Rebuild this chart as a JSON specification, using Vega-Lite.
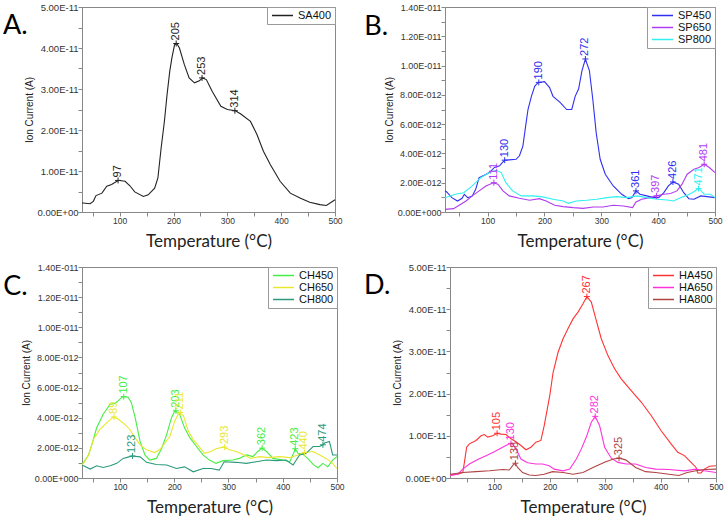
{
"$schema": "https://vega.github.io/schema/vega-lite/v6.json",
"padding": {"left": 2, "top": 1, "right": 0, "bottom": 0},
"datasets": {
"A": [
{"s":"SA400","T":30,"I":0.22e-11},{"s":"SA400","T":32,"I":0.22e-11},{"s":"SA400","T":45,"I":0.2e-11},{"s":"SA400","T":51,"I":0.26e-11},{"s":"SA400","T":56,"I":0.4e-11},{"s":"SA400","T":67,"I":0.46e-11},{"s":"SA400","T":76,"I":0.63e-11},{"s":"SA400","T":85,"I":0.67e-11},{"s":"SA400","T":97,"I":0.77e-11},{"s":"SA400","T":100,"I":0.77e-11},{"s":"SA400","T":110,"I":0.75e-11},{"s":"SA400","T":119,"I":0.64e-11},{"s":"SA400","T":128,"I":0.49e-11},{"s":"SA400","T":144,"I":0.38e-11},{"s":"SA400","T":153,"I":0.42e-11},{"s":"SA400","T":165,"I":0.58e-11},{"s":"SA400","T":171,"I":0.83e-11},{"s":"SA400","T":177,"I":1.56e-11},{"s":"SA400","T":183,"I":2.2e-11},{"s":"SA400","T":188,"I":2.86e-11},{"s":"SA400","T":193,"I":3.43e-11},{"s":"SA400","T":197,"I":3.76e-11},{"s":"SA400","T":202,"I":4.08e-11},{"s":"SA400","T":206,"I":4.11e-11},{"s":"SA400","T":211,"I":4.0e-11},{"s":"SA400","T":220,"I":3.6e-11},{"s":"SA400","T":229,"I":3.27e-11},{"s":"SA400","T":239,"I":3.15e-11},{"s":"SA400","T":248,"I":3.2e-11},{"s":"SA400","T":254,"I":3.27e-11},{"s":"SA400","T":261,"I":3.23e-11},{"s":"SA400","T":272,"I":2.94e-11},{"s":"SA400","T":288,"I":2.58e-11},{"s":"SA400","T":300,"I":2.5e-11},{"s":"SA400","T":315,"I":2.47e-11},{"s":"SA400","T":325,"I":2.39e-11},{"s":"SA400","T":343,"I":2.21e-11},{"s":"SA400","T":355,"I":1.89e-11},{"s":"SA400","T":367,"I":1.48e-11},{"s":"SA400","T":380,"I":1.15e-11},{"s":"SA400","T":398,"I":0.75e-11},{"s":"SA400","T":417,"I":0.46e-11},{"s":"SA400","T":435,"I":0.34e-11},{"s":"SA400","T":453,"I":0.24e-11},{"s":"SA400","T":472,"I":0.18e-11},{"s":"SA400","T":484,"I":0.16e-11},{"s":"SA400","T":498,"I":0.28e-11},{"s":"SA400","T":500,"I":0.3e-11}
],
"B": [
{"s":"SP450","T":25,"I":1.45e-12},{"s":"SP450","T":28,"I":1.37e-12},{"s":"SP450","T":37,"I":0.98e-12},{"s":"SP450","T":47,"I":0.75e-12},{"s":"SP450","T":55,"I":0.94e-12},{"s":"SP450","T":59,"I":1.21e-12},{"s":"SP450","T":65,"I":0.98e-12},{"s":"SP450","T":73,"I":1.1e-12},{"s":"SP450","T":79,"I":1.55e-12},{"s":"SP450","T":85,"I":2.35e-12},{"s":"SP450","T":94,"I":2.51e-12},{"s":"SP450","T":103,"I":2.69e-12},{"s":"SP450","T":112,"I":3.04e-12},{"s":"SP450","T":121,"I":3.15e-12},{"s":"SP450","T":127,"I":3.42e-12},{"s":"SP450","T":130,"I":3.54e-12},{"s":"SP450","T":138,"I":3.56e-12},{"s":"SP450","T":150,"I":3.6e-12},{"s":"SP450","T":156,"I":3.84e-12},{"s":"SP450","T":162,"I":4.5e-12},{"s":"SP450","T":167,"I":5.9e-12},{"s":"SP450","T":171,"I":7.0e-12},{"s":"SP450","T":177,"I":7.9e-12},{"s":"SP450","T":183,"I":8.6e-12},{"s":"SP450","T":189,"I":8.85e-12},{"s":"SP450","T":200,"I":8.9e-12},{"s":"SP450","T":209,"I":8.5e-12},{"s":"SP450","T":215,"I":7.9e-12},{"s":"SP450","T":227,"I":7.5e-12},{"s":"SP450","T":239,"I":7.0e-12},{"s":"SP450","T":248,"I":7.0e-12},{"s":"SP450","T":254,"I":7.9e-12},{"s":"SP450","T":260,"I":8.4e-12},{"s":"SP450","T":266,"I":9.66e-12},{"s":"SP450","T":272,"I":10.45e-12},{"s":"SP450","T":279,"I":9.66e-12},{"s":"SP450","T":285,"I":7.7e-12},{"s":"SP450","T":291,"I":5.4e-12},{"s":"SP450","T":298,"I":3.6e-12},{"s":"SP450","T":307,"I":2.58e-12},{"s":"SP450","T":321,"I":1.78e-12},{"s":"SP450","T":336,"I":1.21e-12},{"s":"SP450","T":348,"I":0.91e-12},{"s":"SP450","T":354,"I":0.98e-12},{"s":"SP450","T":361,"I":1.44e-12},{"s":"SP450","T":368,"I":1.21e-12},{"s":"SP450","T":380,"I":1.1e-12},{"s":"SP450","T":392,"I":0.98e-12},{"s":"SP450","T":401,"I":0.98e-12},{"s":"SP450","T":410,"I":1.32e-12},{"s":"SP450","T":418,"I":1.78e-12},{"s":"SP450","T":426,"I":2.05e-12},{"s":"SP450","T":436,"I":1.9e-12},{"s":"SP450","T":445,"I":1.32e-12},{"s":"SP450","T":454,"I":0.91e-12},{"s":"SP450","T":463,"I":0.87e-12},{"s":"SP450","T":475,"I":1.1e-12},{"s":"SP450","T":486,"I":1.05e-12},{"s":"SP450","T":500,"I":0.98e-12},
{"s":"SP650","T":25,"I":0.18e-12},{"s":"SP650","T":40,"I":0.23e-12},{"s":"SP650","T":50,"I":0.46e-12},{"s":"SP650","T":62,"I":0.75e-12},{"s":"SP650","T":73,"I":1.1e-12},{"s":"SP650","T":85,"I":1.44e-12},{"s":"SP650","T":97,"I":1.78e-12},{"s":"SP650","T":110,"I":2.0e-12},{"s":"SP650","T":118,"I":1.9e-12},{"s":"SP650","T":127,"I":1.44e-12},{"s":"SP650","T":138,"I":1.1e-12},{"s":"SP650","T":156,"I":0.94e-12},{"s":"SP650","T":174,"I":0.8e-12},{"s":"SP650","T":191,"I":0.91e-12},{"s":"SP650","T":203,"I":0.75e-12},{"s":"SP650","T":218,"I":0.46e-12},{"s":"SP650","T":233,"I":0.37e-12},{"s":"SP650","T":251,"I":0.3e-12},{"s":"SP650","T":268,"I":0.25e-12},{"s":"SP650","T":286,"I":0.34e-12},{"s":"SP650","T":303,"I":0.34e-12},{"s":"SP650","T":321,"I":0.46e-12},{"s":"SP650","T":339,"I":0.41e-12},{"s":"SP650","T":355,"I":0.3e-12},{"s":"SP650","T":361,"I":0.68e-12},{"s":"SP650","T":371,"I":0.87e-12},{"s":"SP650","T":386,"I":0.98e-12},{"s":"SP650","T":397,"I":1.1e-12},{"s":"SP650","T":410,"I":1.21e-12},{"s":"SP650","T":422,"I":1.26e-12},{"s":"SP650","T":433,"I":1.44e-12},{"s":"SP650","T":442,"I":1.9e-12},{"s":"SP650","T":451,"I":2.58e-12},{"s":"SP650","T":463,"I":2.92e-12},{"s":"SP650","T":472,"I":3.04e-12},{"s":"SP650","T":481,"I":3.26e-12},{"s":"SP650","T":490,"I":3.04e-12},{"s":"SP650","T":500,"I":2.69e-12},
{"s":"SP800","T":25,"I":0.98e-12},{"s":"SP800","T":43,"I":1.21e-12},{"s":"SP800","T":58,"I":1.32e-12},{"s":"SP800","T":73,"I":1.78e-12},{"s":"SP800","T":88,"I":2.35e-12},{"s":"SP800","T":103,"I":2.69e-12},{"s":"SP800","T":115,"I":2.85e-12},{"s":"SP800","T":124,"I":2.69e-12},{"s":"SP800","T":132,"I":2.0e-12},{"s":"SP800","T":144,"I":1.44e-12},{"s":"SP800","T":159,"I":1.1e-12},{"s":"SP800","T":180,"I":1.1e-12},{"s":"SP800","T":197,"I":1.03e-12},{"s":"SP800","T":215,"I":0.87e-12},{"s":"SP800","T":233,"I":0.75e-12},{"s":"SP800","T":242,"I":0.59e-12},{"s":"SP800","T":256,"I":0.75e-12},{"s":"SP800","T":274,"I":0.8e-12},{"s":"SP800","T":292,"I":0.87e-12},{"s":"SP800","T":310,"I":0.98e-12},{"s":"SP800","T":327,"I":1.05e-12},{"s":"SP800","T":345,"I":0.98e-12},{"s":"SP800","T":363,"I":1.1e-12},{"s":"SP800","T":380,"I":0.98e-12},{"s":"SP800","T":398,"I":0.87e-12},{"s":"SP800","T":416,"I":0.82e-12},{"s":"SP800","T":427,"I":0.75e-12},{"s":"SP800","T":439,"I":0.98e-12},{"s":"SP800","T":448,"I":1.1e-12},{"s":"SP800","T":460,"I":1.32e-12},{"s":"SP800","T":469,"I":1.55e-12},{"s":"SP800","T":472,"I":1.6e-12},{"s":"SP800","T":481,"I":1.21e-12},{"s":"SP800","T":492,"I":1.21e-12},{"s":"SP800","T":500,"I":0.98e-12}
],
"C": [
{"s":"CH450","T":30,"I":0.95e-12},{"s":"CH450","T":33,"I":1.04e-12},{"s":"CH450","T":42,"I":1.53e-12},{"s":"CH450","T":48,"I":2.2e-12},{"s":"CH450","T":57,"I":3.33e-12},{"s":"CH450","T":69,"I":4.23e-12},{"s":"CH450","T":82,"I":4.9e-12},{"s":"CH450","T":91,"I":4.95e-12},{"s":"CH450","T":97,"I":5.13e-12},{"s":"CH450","T":105,"I":5.4e-12},{"s":"CH450","T":115,"I":5.36e-12},{"s":"CH450","T":121,"I":5.0e-12},{"s":"CH450","T":128,"I":4.0e-12},{"s":"CH450","T":137,"I":2.43e-12},{"s":"CH450","T":146,"I":1.53e-12},{"s":"CH450","T":155,"I":1.19e-12},{"s":"CH450","T":167,"I":1.3e-12},{"s":"CH450","T":177,"I":1.98e-12},{"s":"CH450","T":186,"I":2.88e-12},{"s":"CH450","T":195,"I":4.0e-12},{"s":"CH450","T":201,"I":4.46e-12},{"s":"CH450","T":210,"I":4.23e-12},{"s":"CH450","T":219,"I":3.33e-12},{"s":"CH450","T":229,"I":2.66e-12},{"s":"CH450","T":241,"I":2.09e-12},{"s":"CH450","T":253,"I":1.53e-12},{"s":"CH450","T":265,"I":1.19e-12},{"s":"CH450","T":277,"I":0.97e-12},{"s":"CH450","T":290,"I":1.15e-12},{"s":"CH450","T":308,"I":1.19e-12},{"s":"CH450","T":320,"I":1.3e-12},{"s":"CH450","T":333,"I":1.53e-12},{"s":"CH450","T":345,"I":1.42e-12},{"s":"CH450","T":354,"I":1.76e-12},{"s":"CH450","T":362,"I":1.98e-12},{"s":"CH450","T":370,"I":1.76e-12},{"s":"CH450","T":382,"I":1.3e-12},{"s":"CH450","T":400,"I":1.19e-12},{"s":"CH450","T":413,"I":1.08e-12},{"s":"CH450","T":420,"I":1.64e-12},{"s":"CH450","T":423,"I":1.94e-12},{"s":"CH450","T":428,"I":1.64e-12},{"s":"CH450","T":437,"I":1.58e-12},{"s":"CH450","T":446,"I":1.3e-12},{"s":"CH450","T":456,"I":0.9e-12},{"s":"CH450","T":465,"I":0.68e-12},{"s":"CH450","T":474,"I":0.97e-12},{"s":"CH450","T":483,"I":0.74e-12},{"s":"CH450","T":492,"I":1.19e-12},{"s":"CH450","T":500,"I":1.42e-12},
{"s":"CH650","T":30,"I":0.9e-12},{"s":"CH650","T":33,"I":0.97e-12},{"s":"CH650","T":42,"I":1.53e-12},{"s":"CH650","T":51,"I":2.55e-12},{"s":"CH650","T":63,"I":3.22e-12},{"s":"CH650","T":76,"I":3.67e-12},{"s":"CH650","T":88,"I":4.05e-12},{"s":"CH650","T":97,"I":3.9e-12},{"s":"CH650","T":109,"I":3.56e-12},{"s":"CH650","T":118,"I":3.22e-12},{"s":"CH650","T":128,"I":2.66e-12},{"s":"CH650","T":137,"I":2.2e-12},{"s":"CH650","T":149,"I":1.87e-12},{"s":"CH650","T":164,"I":1.69e-12},{"s":"CH650","T":173,"I":1.87e-12},{"s":"CH650","T":183,"I":2.32e-12},{"s":"CH650","T":192,"I":2.77e-12},{"s":"CH650","T":201,"I":3.78e-12},{"s":"CH650","T":209,"I":4.35e-12},{"s":"CH650","T":217,"I":4.12e-12},{"s":"CH650","T":226,"I":3.11e-12},{"s":"CH650","T":235,"I":2.55e-12},{"s":"CH650","T":247,"I":2.03e-12},{"s":"CH650","T":256,"I":1.64e-12},{"s":"CH650","T":268,"I":1.76e-12},{"s":"CH650","T":277,"I":1.94e-12},{"s":"CH650","T":290,"I":2.05e-12},{"s":"CH650","T":302,"I":1.87e-12},{"s":"CH650","T":314,"I":1.76e-12},{"s":"CH650","T":329,"I":1.53e-12},{"s":"CH650","T":341,"I":1.3e-12},{"s":"CH650","T":357,"I":1.42e-12},{"s":"CH650","T":375,"I":1.35e-12},{"s":"CH650","T":394,"I":1.42e-12},{"s":"CH650","T":413,"I":1.35e-12},{"s":"CH650","T":428,"I":1.53e-12},{"s":"CH650","T":440,"I":1.69e-12},{"s":"CH650","T":456,"I":1.76e-12},{"s":"CH650","T":468,"I":1.53e-12},{"s":"CH650","T":480,"I":1.3e-12},{"s":"CH650","T":492,"I":0.97e-12},{"s":"CH650","T":500,"I":0.63e-12},
{"s":"CH800","T":30,"I":0.85e-12},{"s":"CH800","T":33,"I":0.81e-12},{"s":"CH800","T":45,"I":0.59e-12},{"s":"CH800","T":57,"I":0.81e-12},{"s":"CH800","T":69,"I":0.7e-12},{"s":"CH800","T":82,"I":0.81e-12},{"s":"CH800","T":94,"I":0.97e-12},{"s":"CH800","T":106,"I":1.3e-12},{"s":"CH800","T":118,"I":1.42e-12},{"s":"CH800","T":123,"I":1.46e-12},{"s":"CH800","T":137,"I":1.4e-12},{"s":"CH800","T":149,"I":1.04e-12},{"s":"CH800","T":167,"I":0.9e-12},{"s":"CH800","T":186,"I":0.86e-12},{"s":"CH800","T":204,"I":0.63e-12},{"s":"CH800","T":219,"I":0.74e-12},{"s":"CH800","T":235,"I":0.41e-12},{"s":"CH800","T":253,"I":0.63e-12},{"s":"CH800","T":268,"I":0.63e-12},{"s":"CH800","T":283,"I":0.52e-12},{"s":"CH800","T":292,"I":1.08e-12},{"s":"CH800","T":314,"I":1.04e-12},{"s":"CH800","T":333,"I":0.97e-12},{"s":"CH800","T":351,"I":1.08e-12},{"s":"CH800","T":370,"I":1.19e-12},{"s":"CH800","T":388,"I":1.15e-12},{"s":"CH800","T":406,"I":1.19e-12},{"s":"CH800","T":419,"I":0.86e-12},{"s":"CH800","T":431,"I":1.53e-12},{"s":"CH800","T":443,"I":1.64e-12},{"s":"CH800","T":456,"I":2.09e-12},{"s":"CH800","T":468,"I":2.09e-12},{"s":"CH800","T":474,"I":2.2e-12},{"s":"CH800","T":477,"I":2.32e-12},{"s":"CH800","T":486,"I":2.43e-12},{"s":"CH800","T":492,"I":1.53e-12},{"s":"CH800","T":500,"I":1.53e-12}
],
"D": [
{"s":"HA450","T":20,"I":0.07e-11},{"s":"HA450","T":34,"I":0.09e-11},{"s":"HA450","T":43,"I":0.13e-11},{"s":"HA450","T":46,"I":0.37e-11},{"s":"HA450","T":50,"I":0.73e-11},{"s":"HA450","T":55,"I":0.81e-11},{"s":"HA450","T":67,"I":0.89e-11},{"s":"HA450","T":76,"I":1.0e-11},{"s":"HA450","T":82,"I":1.03e-11},{"s":"HA450","T":88,"I":0.97e-11},{"s":"HA450","T":97,"I":1.0e-11},{"s":"HA450","T":105,"I":1.06e-11},{"s":"HA450","T":112,"I":1.04e-11},{"s":"HA450","T":121,"I":1.03e-11},{"s":"HA450","T":130,"I":0.93e-11},{"s":"HA450","T":139,"I":0.86e-11},{"s":"HA450","T":148,"I":0.77e-11},{"s":"HA450","T":157,"I":0.67e-11},{"s":"HA450","T":166,"I":0.73e-11},{"s":"HA450","T":175,"I":0.85e-11},{"s":"HA450","T":184,"I":0.89e-11},{"s":"HA450","T":190,"I":1.24e-11},{"s":"HA450","T":200,"I":1.95e-11},{"s":"HA450","T":206,"I":2.5e-11},{"s":"HA450","T":215,"I":2.98e-11},{"s":"HA450","T":224,"I":3.3e-11},{"s":"HA450","T":233,"I":3.54e-11},{"s":"HA450","T":242,"I":3.77e-11},{"s":"HA450","T":251,"I":3.93e-11},{"s":"HA450","T":260,"I":4.13e-11},{"s":"HA450","T":267,"I":4.3e-11},{"s":"HA450","T":275,"I":4.17e-11},{"s":"HA450","T":284,"I":3.73e-11},{"s":"HA450","T":293,"I":3.3e-11},{"s":"HA450","T":305,"I":2.9e-11},{"s":"HA450","T":317,"I":2.59e-11},{"s":"HA450","T":329,"I":2.35e-11},{"s":"HA450","T":347,"I":2.07e-11},{"s":"HA450","T":365,"I":1.8e-11},{"s":"HA450","T":383,"I":1.48e-11},{"s":"HA450","T":401,"I":1.12e-11},{"s":"HA450","T":419,"I":0.81e-11},{"s":"HA450","T":431,"I":0.61e-11},{"s":"HA450","T":443,"I":0.53e-11},{"s":"HA450","T":455,"I":0.37e-11},{"s":"HA450","T":464,"I":0.25e-11},{"s":"HA450","T":467,"I":0.12e-11},{"s":"HA450","T":473,"I":0.12e-11},{"s":"HA450","T":479,"I":0.21e-11},{"s":"HA450","T":488,"I":0.28e-11},{"s":"HA450","T":500,"I":0.29e-11},
{"s":"HA650","T":20,"I":0.06e-11},{"s":"HA650","T":34,"I":0.09e-11},{"s":"HA650","T":43,"I":0.21e-11},{"s":"HA650","T":55,"I":0.33e-11},{"s":"HA650","T":70,"I":0.44e-11},{"s":"HA650","T":85,"I":0.53e-11},{"s":"HA650","T":100,"I":0.62e-11},{"s":"HA650","T":115,"I":0.73e-11},{"s":"HA650","T":127,"I":0.81e-11},{"s":"HA650","T":132,"I":0.82e-11},{"s":"HA650","T":139,"I":0.69e-11},{"s":"HA650","T":148,"I":0.45e-11},{"s":"HA650","T":160,"I":0.36e-11},{"s":"HA650","T":175,"I":0.33e-11},{"s":"HA650","T":187,"I":0.33e-11},{"s":"HA650","T":199,"I":0.29e-11},{"s":"HA650","T":208,"I":0.21e-11},{"s":"HA650","T":224,"I":0.17e-11},{"s":"HA650","T":236,"I":0.21e-11},{"s":"HA650","T":248,"I":0.45e-11},{"s":"HA650","T":257,"I":0.69e-11},{"s":"HA650","T":266,"I":0.97e-11},{"s":"HA650","T":275,"I":1.32e-11},{"s":"HA650","T":282,"I":1.46e-11},{"s":"HA650","T":290,"I":1.24e-11},{"s":"HA650","T":299,"I":0.73e-11},{"s":"HA650","T":311,"I":0.47e-11},{"s":"HA650","T":323,"I":0.37e-11},{"s":"HA650","T":338,"I":0.33e-11},{"s":"HA650","T":355,"I":0.33e-11},{"s":"HA650","T":373,"I":0.25e-11},{"s":"HA650","T":391,"I":0.21e-11},{"s":"HA650","T":415,"I":0.2e-11},{"s":"HA650","T":443,"I":0.17e-11},{"s":"HA650","T":464,"I":0.21e-11},{"s":"HA650","T":479,"I":0.17e-11},{"s":"HA650","T":500,"I":0.13e-11},
{"s":"HA800","T":20,"I":0.09e-11},{"s":"HA800","T":43,"I":0.13e-11},{"s":"HA800","T":67,"I":0.15e-11},{"s":"HA800","T":91,"I":0.17e-11},{"s":"HA800","T":115,"I":0.2e-11},{"s":"HA800","T":127,"I":0.19e-11},{"s":"HA800","T":134,"I":0.31e-11},{"s":"HA800","T":138,"I":0.35e-11},{"s":"HA800","T":142,"I":0.25e-11},{"s":"HA800","T":151,"I":0.13e-11},{"s":"HA800","T":163,"I":0.07e-11},{"s":"HA800","T":175,"I":0.06e-11},{"s":"HA800","T":190,"I":0.09e-11},{"s":"HA800","T":205,"I":0.15e-11},{"s":"HA800","T":224,"I":0.13e-11},{"s":"HA800","T":242,"I":0.09e-11},{"s":"HA800","T":260,"I":0.13e-11},{"s":"HA800","T":278,"I":0.25e-11},{"s":"HA800","T":300,"I":0.38e-11},{"s":"HA800","T":315,"I":0.45e-11},{"s":"HA800","T":325,"I":0.47e-11},{"s":"HA800","T":337,"I":0.43e-11},{"s":"HA800","T":355,"I":0.25e-11},{"s":"HA800","T":373,"I":0.15e-11},{"s":"HA800","T":391,"I":0.13e-11},{"s":"HA800","T":415,"I":0.09e-11},{"s":"HA800","T":433,"I":0.06e-11},{"s":"HA800","T":448,"I":0.13e-11},{"s":"HA800","T":464,"I":0.17e-11},{"s":"HA800","T":479,"I":0.2e-11},{"s":"HA800","T":500,"I":0.21e-11}
],
"pA": [
{"s":"SA400","T":97,"I":0.77e-11,"label":"97"},{"s":"SA400","T":205,"I":4.11e-11,"label":"205"},{"s":"SA400","T":253,"I":3.27e-11,"label":"253"},{"s":"SA400","T":314,"I":2.47e-11,"label":"314"}
],
"pB": [
{"s":"SP450","T":130,"I":3.54e-12,"label":"130"},{"s":"SP450","T":190,"I":8.85e-12,"label":"190"},{"s":"SP450","T":272,"I":10.45e-12,"label":"272"},{"s":"SP450","T":361,"I":1.44e-12,"label":"361"},{"s":"SP450","T":426,"I":2.05e-12,"label":"426"},
{"s":"SP650","T":111,"I":2.0e-12,"label":"111"},{"s":"SP650","T":397,"I":1.1e-12,"label":"397"},{"s":"SP650","T":481,"I":3.26e-12,"label":"481"},
{"s":"SP800","T":471,"I":1.6e-12,"label":"471"}
],
"pC": [
{"s":"CH450","T":107,"I":5.4e-12,"label":"107"},{"s":"CH450","T":203,"I":4.46e-12,"label":"203"},{"s":"CH450","T":362,"I":1.98e-12,"label":"362"},{"s":"CH450","T":423,"I":1.94e-12,"label":"423"},
{"s":"CH650","T":89,"I":4.05e-12,"label":"89"},{"s":"CH650","T":211,"I":4.35e-12,"label":"211"},{"s":"CH650","T":293,"I":2.05e-12,"label":"293"},{"s":"CH650","T":440,"I":1.69e-12,"label":"440"},
{"s":"CH800","T":123,"I":1.46e-12,"label":"123"},{"s":"CH800","T":474,"I":2.2e-12,"label":"474"}
],
"pD": [
{"s":"HA450","T":105,"I":1.06e-11,"label":"105"},{"s":"HA450","T":267,"I":4.3e-11,"label":"267"},
{"s":"HA650","T":130,"I":0.82e-11,"label":"130"},{"s":"HA650","T":282,"I":1.46e-11,"label":"282"},
{"s":"HA800","T":138,"I":0.35e-11,"label":"138"},{"s":"HA800","T":325,"I":0.47e-11,"label":"325"}
]
},
"resolve": {"scale": {"color": "independent"}, "legend": {"color": "independent"}},
"vconcat": [
{"resolve": {"scale": {"color": "independent"}, "legend": {"color": "independent"}},
"hconcat": [
{
"width": 253, "height": 205,
"title": {"text": "A.", "anchor": "start", "frame": "bounds", "offset": -38, "dx": -21},
"encoding": {
"x": {"field": "T", "type": "quantitative", "scale": {"domain": [30, 500], "nice": false, "zero": false},
 "axis": {"title": "Temperature (°C)", "values": [50,100,150,200,250,300,350,400,450,500], "labelExpr": "datum.value % 100 == 0 ? datum.label : ''", "labelFlush": false, "encode": {"ticks": {"update": {"y2": {"signal": "datum.value % 100 == 0 ? 4 : 2.5"}}}}}},
"y": {"field": "I", "type": "quantitative", "scale": {"domain": [0, 5e-11], "nice": false},
 "axis": {"title": "Ion Current (A)", "labelFontSize": 9.5, "values": [0,5e-12,1e-11,1.5e-11,2e-11,2.5e-11,3e-11,3.5e-11,4e-11,4.5e-11,5e-11], "labelExpr": "round(datum.value/5e-12) % 2 == 1 ? '' : (datum.value == 0 ? '0.00E+00' : upper(format(datum.value, '.2e')))", "labelFlush": false, "encode": {"ticks": {"update": {"x2": {"signal": "round(datum.value/5e-12) % 2 == 1 ? -2.5 : -4"}}}}}},
"color": {"field": "s", "type": "nominal", "scale": {"domain": ["SA400"], "range": ["#222222"]}, "legend": {"title": null}}
},
"layer": [
{"data": {"name": "A"}, "mark": {"type": "line", "strokeWidth": 1.1}},
{"data": {"name": "pA"}, "mark": {"type": "point", "shape": "M-1,0H1M0,-1V1", "size": 36, "filled": false, "strokeWidth": 1, "opacity": 1}, "encoding": {"color": {"field": "s", "type": "nominal", "legend": null}}},
{"data": {"name": "pA"}, "mark": {"type": "text", "angle": 270, "align": "left", "baseline": "middle", "dx": 3, "fontSize": 11, "font": "Liberation Sans"}, "encoding": {"text": {"field": "label"}, "color": {"field": "s", "type": "nominal", "legend": null}}}
]
},
{
"width": 270, "height": 205,
"title": {"text": "B.", "anchor": "start", "frame": "bounds", "offset": -38, "dx": -20},
"encoding": {
"x": {"field": "T", "type": "quantitative", "scale": {"domain": [25, 500], "nice": false, "zero": false},
 "axis": {"title": "Temperature (°C)", "values": [50,100,150,200,250,300,350,400,450,500], "labelExpr": "datum.value % 100 == 0 ? datum.label : ''", "labelFlush": false, "encode": {"ticks": {"update": {"y2": {"signal": "datum.value % 100 == 0 ? 4 : 2.5"}}}}}},
"y": {"field": "I", "type": "quantitative", "scale": {"domain": [0, 1.4e-11], "nice": false},
 "axis": {"title": "Ion Current (A)", "labelFontSize": 9, "values": [0,1e-12,2e-12,3e-12,4e-12,5e-12,6e-12,7e-12,8e-12,9e-12,1e-11,1.1e-11,1.2e-11,1.3e-11,1.4e-11], "labelExpr": "round(datum.value/1e-12) % 2 == 1 ? '' : (datum.value == 0 ? '0.00E+000' : replace(upper(format(datum.value, '.2e')), 'E-', 'E-0'))", "labelFlush": false, "encode": {"ticks": {"update": {"x2": {"signal": "round(datum.value/1e-12) % 2 == 1 ? -2.5 : -4"}}}}}},
"color": {"field": "s", "type": "nominal", "scale": {"domain": ["SP450", "SP650", "SP800"], "range": ["#3030f0", "#b03cf0", "#30f0f0"]}, "legend": {"title": null}}
},
"layer": [
{"data": {"name": "B"}, "mark": {"type": "line", "strokeWidth": 1.1}},
{"data": {"name": "pB"}, "mark": {"type": "point", "shape": "M-1,0H1M0,-1V1", "size": 36, "filled": false, "strokeWidth": 1, "opacity": 1}, "encoding": {"color": {"field": "s", "type": "nominal", "legend": null}}},
{"data": {"name": "pB"}, "mark": {"type": "text", "angle": 270, "align": "left", "baseline": "middle", "dx": 3, "fontSize": 11, "font": "Liberation Sans"}, "encoding": {"text": {"field": "label"}, "color": {"field": "s", "type": "nominal", "legend": null}}}
]
}
], "spacing": 20},
{"resolve": {"scale": {"color": "independent"}, "legend": {"color": "independent"}},
"hconcat": [
{
"width": 255, "height": 211,
"title": {"text": "C.", "anchor": "start", "frame": "bounds", "offset": -38, "dx": -18},
"encoding": {
"x": {"field": "T", "type": "quantitative", "scale": {"domain": [30, 500], "nice": false, "zero": false},
 "axis": {"title": "Temperature (°C)", "values": [50,100,150,200,250,300,350,400,450,500], "labelExpr": "datum.value % 100 == 0 ? datum.label : ''", "labelFlush": false, "encode": {"ticks": {"update": {"y2": {"signal": "datum.value % 100 == 0 ? 4 : 2.5"}}}}}},
"y": {"field": "I", "type": "quantitative", "scale": {"domain": [0, 1.4e-11], "nice": false},
 "axis": {"title": "Ion Current (A)", "labelFontSize": 9, "values": [0,1e-12,2e-12,3e-12,4e-12,5e-12,6e-12,7e-12,8e-12,9e-12,1e-11,1.1e-11,1.2e-11,1.3e-11,1.4e-11], "labelExpr": "round(datum.value/1e-12) % 2 == 1 ? '' : (datum.value == 0 ? '0.00E+000' : replace(upper(format(datum.value, '.2e')), 'E-', 'E-0'))", "labelFlush": false, "encode": {"ticks": {"update": {"x2": {"signal": "round(datum.value/1e-12) % 2 == 1 ? -2.5 : -4"}}}}}},
"color": {"field": "s", "type": "nominal", "scale": {"domain": ["CH450", "CH650", "CH800"], "range": ["#44ee44", "#e8e830", "#2a9a7a"]}, "legend": {"title": null}}
},
"layer": [
{"data": {"name": "C"}, "mark": {"type": "line", "strokeWidth": 1.1}},
{"data": {"name": "pC"}, "mark": {"type": "point", "shape": "M-1,0H1M0,-1V1", "size": 36, "filled": false, "strokeWidth": 1, "opacity": 1}, "encoding": {"color": {"field": "s", "type": "nominal", "legend": null}}},
{"data": {"name": "pC"}, "mark": {"type": "text", "angle": 270, "align": "left", "baseline": "middle", "dx": 3, "fontSize": 11, "font": "Liberation Sans"}, "encoding": {"text": {"field": "label"}, "color": {"field": "s", "type": "nominal", "legend": null}}}
]
},
{
"width": 266, "height": 211,
"title": {"text": "D.", "anchor": "start", "frame": "bounds", "offset": -38, "dx": -28},
"encoding": {
"x": {"field": "T", "type": "quantitative", "scale": {"domain": [20, 500], "nice": false, "zero": false},
 "axis": {"title": "Temperature (°C)", "values": [50,100,150,200,250,300,350,400,450,500], "labelExpr": "datum.value % 100 == 0 ? datum.label : ''", "labelFlush": false, "encode": {"ticks": {"update": {"y2": {"signal": "datum.value % 100 == 0 ? 4 : 2.5"}}}}}},
"y": {"field": "I", "type": "quantitative", "scale": {"domain": [0, 5e-11], "nice": false},
 "axis": {"title": "Ion Current (A)", "labelFontSize": 9.5, "values": [0,5e-12,1e-11,1.5e-11,2e-11,2.5e-11,3e-11,3.5e-11,4e-11,4.5e-11,5e-11], "labelExpr": "round(datum.value/5e-12) % 2 == 1 ? '' : (datum.value == 0 ? '0.00E+00' : upper(format(datum.value, '.2e')))", "labelFlush": false, "encode": {"ticks": {"update": {"x2": {"signal": "round(datum.value/5e-12) % 2 == 1 ? -2.5 : -4"}}}}}},
"color": {"field": "s", "type": "nominal", "scale": {"domain": ["HA450", "HA650", "HA800"], "range": ["#ff3333", "#ff33dd", "#b04444"]}, "legend": {"title": null}}
},
"layer": [
{"data": {"name": "D"}, "mark": {"type": "line", "strokeWidth": 1.1}},
{"data": {"name": "pD"}, "mark": {"type": "point", "shape": "M-1,0H1M0,-1V1", "size": 36, "filled": false, "strokeWidth": 1, "opacity": 1}, "encoding": {"color": {"field": "s", "type": "nominal", "legend": null}}},
{"data": {"name": "pD"}, "mark": {"type": "text", "angle": 270, "align": "left", "baseline": "middle", "dx": 3, "fontSize": 11, "font": "Liberation Sans"}, "encoding": {"text": {"field": "label"}, "color": {"field": "s", "type": "nominal", "legend": null}}}
]
}
], "spacing": 18}
],
"spacing": 11,
"config": {
"view": {"stroke": "#888888", "strokeWidth": 1},
"axis": {"grid": false, "domainColor": "#888888", "tickColor": "#888888", "tickSize": 4, "labelPadding": 0, "labelFont": "Liberation Sans", "labelFontSize": 9, "labelColor": "#333333", "labelOverlap": false, "titleColor": "#222222", "titleFontWeight": "normal"},
"axisX": {"titleFont": "Lato", "titleFontSize": 17, "titlePadding": 9, "labelFontSize": 8.5},
"axisY": {"titleFont": "Liberation Sans", "titleFontSize": 10, "titlePadding": 3},
"legend": {"orient": "top-right", "offset": 0, "padding": 3, "strokeColor": "#999999", "fillColor": "white", "symbolType": "M-3.5,0H3.5", "symbolSize": 36, "symbolStrokeWidth": 1.5, "symbolOffset": 7, "labelOffset": 10, "labelFont": "Liberation Sans", "labelFontSize": 11, "labelColor": "#111111", "rowPadding": 0},
"title": {"font": "Lato", "fontSize": 27, "fontWeight": "normal", "color": "#000000"}
}
}
